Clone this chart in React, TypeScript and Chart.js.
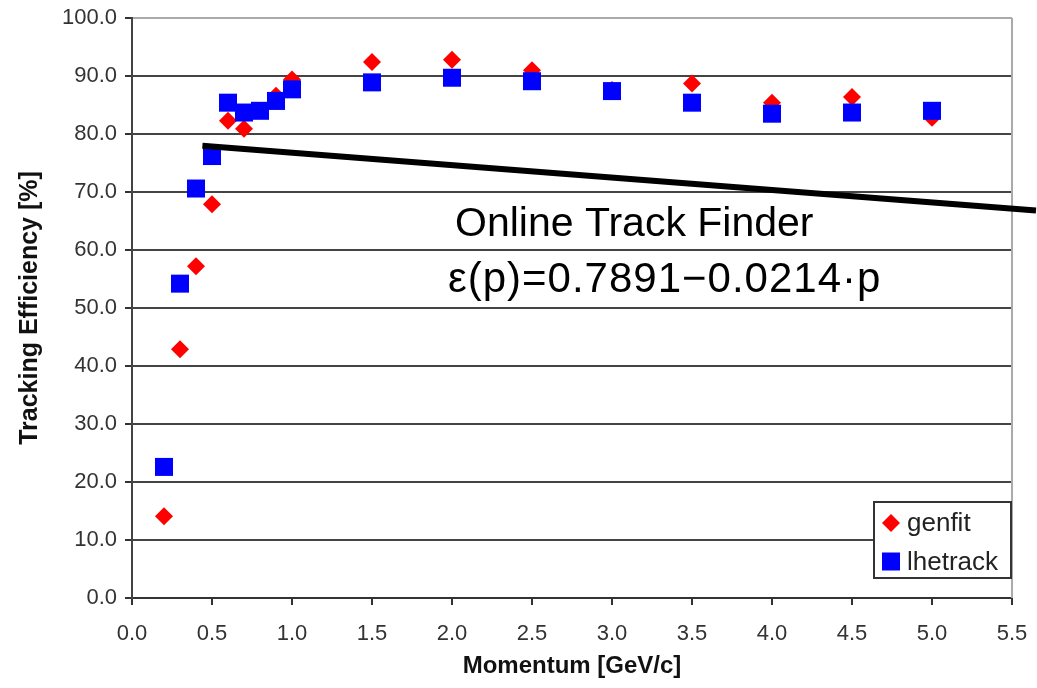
import React, { useEffect, useRef } from 'react';
import { Chart, registerables } from 'chart.js';

Chart.register(...registerables);

// Momentum bins [GeV/c]
const momentum = [0.2, 0.3, 0.4, 0.5, 0.6, 0.7, 0.8, 0.9, 1.0, 1.5, 2.0, 2.5, 3.0, 3.5, 4.0, 4.5, 5.0];
// Tracking efficiency [%] per bin
const genfit = [14.1, 42.9, 57.2, 67.9, 82.3, 80.9, null, 86.6, 89.4, 92.4, 92.8, 91.0, 87.6, 88.7, 85.4, 86.4, 82.8];
const lhetrack = [22.6, 54.2, 70.6, 76.2, 85.4, 83.7, 84.0, 85.7, 87.7, 88.9, 89.7, 89.1, 87.4, 85.4, 83.5, 83.7, 84.0];

// Online track finder parametrisation: eps(p) = a - b * p
const fitIntercept = 0.7891;
const fitSlope = 0.0214;
const fitMomentumRange = [0.44, 5.65];

const xTickValues = [0, 0.5, 1.0, 1.5, 2.0, 2.5, 3.0, 3.5, 4.0, 4.5, 5.0, 5.5];
const yTickValues = [0, 10, 20, 30, 40, 50, 60, 70, 80, 90, 100];

const seriesLabels = ['genfit', 'lhetrack'];
const annotationTitle = 'Online Track Finder';
const annotationFormula = `ε(p)=${fitIntercept}−${fitSlope}·p`;

const FONT = "'Liberation Sans', Arial, sans-serif";
const RED = '#ff0000';
const BLUE = '#0000ff';

function drawDiamond(ctx: CanvasRenderingContext2D, x: number, y: number, r: number) {
  ctx.beginPath();
  ctx.moveTo(x, y - r);
  ctx.lineTo(x + r, y);
  ctx.lineTo(x, y + r);
  ctx.lineTo(x - r, y);
  ctx.closePath();
  ctx.fill();
}

const framePlugin = {
  id: 'plotFrame',
  beforeDatasetsDraw(chart: any) {
    const { ctx, chartArea } = chart;
    ctx.save();
    ctx.strokeStyle = '#aaaaaa';
    ctx.lineWidth = 2;
    ctx.beginPath();
    ctx.moveTo(chartArea.right, chartArea.top);
    ctx.lineTo(chartArea.right, chartArea.bottom);
    ctx.stroke();
    ctx.restore();
  },
};

const annotationPlugin = {
  id: 'fitAnnotation',
  afterDatasetsDraw(chart: any) {
    const { ctx, scales } = chart;
    const x = scales.x.getPixelForValue(2.0);
    ctx.save();
    ctx.fillStyle = '#000';
    ctx.textAlign = 'left';
    ctx.textBaseline = 'alphabetic';
    ctx.font = `41px ${FONT}`;
    ctx.fillText(annotationTitle, x + 3, scales.y.getPixelForValue(62.5));
    ctx.font = `42px ${FONT}`;
    (ctx as any).letterSpacing = '1px';
    ctx.fillText(annotationFormula, x - 4, scales.y.getPixelForValue(52.7));
    ctx.restore();
  },
};

const legendPlugin = {
  id: 'boxLegend',
  afterDraw(chart: any) {
    const { ctx, chartArea } = chart;
    const w = 137;
    const h = 76;
    const left = chartArea.right - 1 - w;
    const top = chartArea.bottom - 20 - h;
    ctx.save();
    ctx.fillStyle = '#fff';
    ctx.fillRect(left, top, w, h);
    ctx.strokeStyle = '#333';
    ctx.lineWidth = 2;
    ctx.strokeRect(left, top, w, h);
    ctx.font = `26px ${FONT}`;
    ctx.textBaseline = 'middle';
    ctx.textAlign = 'left';
    seriesLabels.forEach((label, i) => {
      const cy = top + 21 + i * 38.5;
      const cx = left + 17;
      if (i === 0) {
        ctx.fillStyle = RED;
        drawDiamond(ctx, cx, cy, 9);
      } else {
        ctx.fillStyle = BLUE;
        ctx.fillRect(cx - 9, cy - 9, 18, 18);
      }
      ctx.fillStyle = '#222';
      ctx.fillText(label, left + 33, cy + 1);
    });
    ctx.restore();
  },
};

export default function App() {
  const canvasRef = useRef<HTMLCanvasElement | null>(null);

  useEffect(() => {
    if (!canvasRef.current) return;
    const toPoints = (vals: (number | null)[]) =>
      momentum
        .map((p, i) => ({ x: p, y: vals[i] }))
        .filter((pt) => pt.y !== null) as { x: number; y: number }[];

    const fitPoints = fitMomentumRange.map((p) => ({ x: p, y: (fitIntercept - fitSlope * p) * 100 }));

    const chart = new Chart(canvasRef.current, {
      type: 'scatter',
      data: {
        datasets: [
          {
            label: 'fit',
            data: fitPoints,
            showLine: true,
            borderColor: '#000',
            borderWidth: 6,
            pointRadius: 0,
            clip: false,
            order: 0,
          } as any,
          {
            label: seriesLabels[1],
            data: toPoints(lhetrack),
            pointStyle: 'rect',
            pointRadius: 9 / Math.SQRT1_2,
            backgroundColor: BLUE,
            borderWidth: 0,
            order: 1,
          },
          {
            label: seriesLabels[0],
            data: toPoints(genfit),
            pointStyle: 'rectRot',
            pointRadius: 9,
            backgroundColor: RED,
            borderWidth: 0,
            order: 2,
          },
        ],
      },
      options: {
        animation: false,
        responsive: false,
        devicePixelRatio: 1,
        layout: { padding: { top: 18, right: 25, left: 0, bottom: 0 } },
        plugins: {
          legend: { display: false },
          tooltip: { enabled: false },
        },
        scales: {
          x: {
            type: 'linear',
            min: 0,
            max: 5.5,
            afterBuildTicks: (scale: any) => {
              scale.ticks = xTickValues.map((v) => ({ value: v }));
            },
            afterFit: (scale: any) => {
              scale.height = 90;
              scale.paddingLeft = 0;
              scale.paddingRight = 0;
            },
            ticks: {
              callback: (v: any) => Number(v).toFixed(1),
              font: { family: FONT, size: 22 },
              color: '#333',
              padding: 16,
              maxRotation: 0,
              autoSkip: false,
            },
            grid: {
              drawOnChartArea: false,
              drawTicks: true,
              tickLength: 7,
              color: '#333',
              lineWidth: 2,
            },
            border: { display: true, color: '#333', width: 2 },
            title: {
              display: true,
              text: 'Momentum [GeV/c]',
              font: { family: FONT, size: 24, weight: 'bold' },
              color: '#111',
              padding: { top: 0, bottom: 7 },
            },
          },
          y: {
            type: 'linear',
            min: 0,
            max: 100,
            afterBuildTicks: (scale: any) => {
              scale.ticks = yTickValues.map((v) => ({ value: v }));
            },
            afterFit: (scale: any) => {
              scale.width = 132;
              scale.paddingTop = 0;
              scale.paddingBottom = 0;
            },
            ticks: {
              callback: (v: any) => Number(v).toFixed(1),
              font: { family: FONT, size: 22 },
              color: '#333',
              padding: 8,
            },
            grid: {
              color: (c: any) => (c.tick && c.tick.value === 100 ? '#aaaaaa' : '#444444'),
              tickColor: '#333',
              lineWidth: 2,
              tickLength: 7,
            },
            border: { display: true, color: '#444', width: 2 },
            title: {
              display: true,
              text: 'Tracking Efficiency [%]',
              font: { family: FONT, size: 25, weight: 'bold' },
              color: '#111',
              padding: { top: 15, bottom: 0 },
            },
          },
        },
      },
      plugins: [framePlugin, annotationPlugin, legendPlugin],
    } as any);

    return () => chart.destroy();
  }, []);

  return (
    <div style={{ position: 'absolute', left: 0, top: 0, width: 1037, height: 688, background: '#fff' }}>
      <canvas ref={canvasRef} width={1037} height={688} />
    </div>
  );
}
